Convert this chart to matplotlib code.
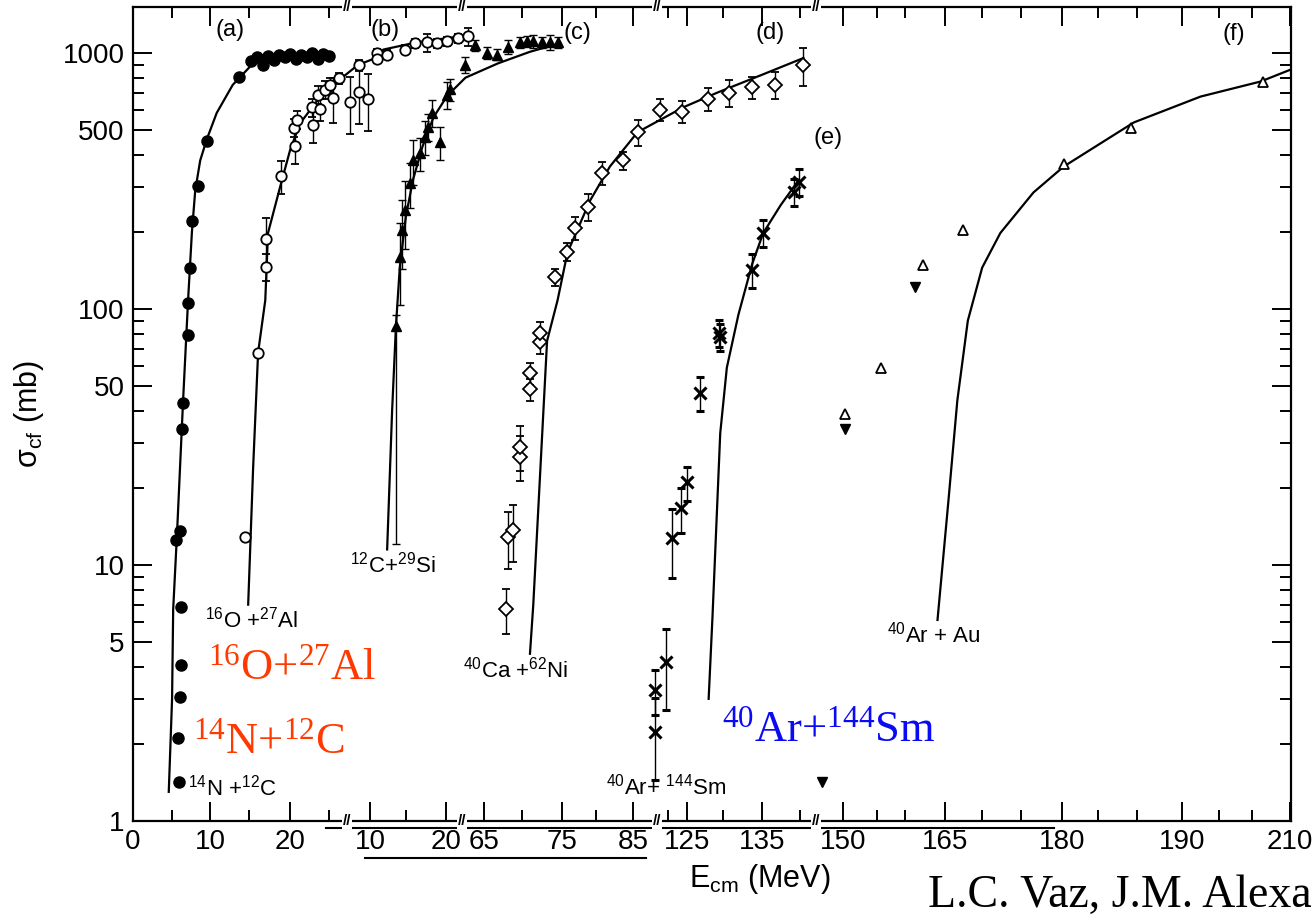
import numpy as np
import matplotlib
matplotlib.use('Agg')
import matplotlib.pyplot as plt
from matplotlib.ticker import FixedLocator, FixedFormatter, NullFormatter, LogLocator

plt.rcParams['font.family'] = ['Liberation Sans', 'DejaVu Sans']
plt.rcParams['mathtext.default'] = 'regular'

# x is the position along the composite (broken) energy axis, 0..210
# each panel has its own energy scale, the tick labels carry the real MeV values
tick_pos = [0, 14.0, 28.5, 43.0, 56.8, 63.7, 77.8, 90.7, 100.5, 114.1, 128.8, 147.3, 168.5, 190.2, 209.8]
tick_lab = ['0', '10', '20', '10', '20', '65', '75', '85', '125', '135', '150', '165', '180', '190', '210']
minor_pos = [7, 21, 35.5, 49.5, 70.5, 84, 97, 107, 121, 135, 140, 154, 161, 175, 182, 197, 203]
break_pos = [38.8, 59.7, 95.1, 123.8]

# (a) 14N + 12C
a_x = [8.3, 8.2, 8.5, 8.7, 8.7, 7.8, 8.5, 8.9, 9.1, 10.0, 10.0, 10.3, 10.7, 11.8, 13.4, 19.2,
       21.5, 22.5, 23.5, 24.5, 25.5, 26.5, 27.5, 28.5, 29.5, 30.5, 31.5, 32.5, 33.5, 34.5, 35.5]
a_y = [1.42, 2.11, 3.05, 4.07, 6.85, 12.5, 13.6, 34, 43, 79, 105, 144, 220, 302, 453, 806,
       930, 960, 900, 970, 940, 980, 960, 990, 950, 985, 965, 1000, 950, 990, 970]
a_fit_x = [6.5, 7.1, 7.3, 8.0, 9.1, 10.0, 10.7, 11.3, 12.2, 13.4, 15.2, 18.1, 21.8, 26, 30, 35.8]
a_fit_y = [1.3, 3.0, 6.7, 13.3, 44, 108, 200, 290, 380, 460, 583, 750, 910, 960, 980, 990]

# (b) 16O + 27Al
b_x = [20.3, 22.7, 24.1, 24.1, 26.9, 29.4, 29.2, 29.8, 32.7, 32.5, 33.9, 33.6, 34.8, 35.8, 36.3,
       37.4, 39.4, 41.0, 42.6, 41.0, 44.3, 46.1, 44.3, 49.4, 51.2, 53.4, 55.2, 57.0, 59.0, 60.8]
b_y = [12.9, 67.5, 146, 188, 330, 433, 509, 548, 525, 613, 601, 685, 717, 750, 667,
       795, 645, 705, 660, 897, 1000, 985, 950, 1030, 1090, 1100, 1090, 1110, 1140, 1160]
b_err = [0, 0, 0.12, 0.2, 0.15, 0.15, 0.08, 0.08, 0.15, 0.08, 0.1, 0.08, 0.08, 0.06, 0.2,
         0.05, 0.25, 0.25, 0.25, 0.05, 0.04, 0.04, 0.04, 0.04, 0.04, 0.08, 0.04, 0.04, 0.04, 0.08]
b_fit_x = [20.9, 21.8, 22.7, 24.0, 24.5, 26.7, 28.5, 30.3, 33.4, 36.3, 40.8, 44.3, 45.4, 51.5, 60.6]
b_fit_y = [7, 24, 67.5, 108, 198, 300, 417, 530, 650, 750, 897, 960, 1030, 1100, 1170]

# (c) 12C + 29Si
c_x = [47.7, 48.5, 48.8, 49.4, 50.3, 50.8, 52.1, 53.0, 53.5, 54.3, 55.7, 57.0, 57.5, 60.3,
       62.1, 64.2, 66.1, 68.1, 70.2, 71.5, 72.6, 74.2, 75.7, 77.1]
c_y = [86, 160, 204, 244, 310, 380, 405, 470, 515, 582, 448, 685, 720, 897,
       1070, 1000, 985, 1055, 1100, 1110, 1110, 1100, 1100, 1100]
c_err_lo = [0.86, 0.35, 0.3, 0.3, 0.2, 0.2, 0.15, 0.15, 0.12, 0.12, 0.15, 0.12, 0.1, 0.07,
            0.05, 0.05, 0.05, 0.06, 0.05, 0.05, 0.06, 0.05, 0.07, 0.05]
c_err_hi = [0.1, 0.35, 0.3, 0.3, 0.2, 0.2, 0.15, 0.15, 0.12, 0.12, 0.15, 0.12, 0.1, 0.07,
            0.05, 0.05, 0.05, 0.06, 0.05, 0.05, 0.06, 0.05, 0.07, 0.05]
c_fit_x = [46.1, 47.0, 47.7, 48.4, 49.5, 50.8, 52.5, 54.5, 57.0, 60.3, 66.2, 72.0, 77.5]
c_fit_y = [11.5, 40, 86, 146, 230, 320, 430, 560, 680, 800, 910, 1010, 1090]

# (d) 40Ca + 62Ni
d_x = [67.7, 68.1, 69.0, 70.2, 70.2, 72.0, 72.0, 73.9, 73.9, 76.6, 78.8, 80.2, 82.6, 85.1,
       88.9, 91.5, 95.6, 99.6, 104.2, 108.0, 112.3, 116.5, 121.6]
d_y = [6.7, 12.9, 13.7, 26.5, 29, 48.5, 56, 74, 80.5, 133, 167, 207, 250, 340,
       380, 490, 600, 590, 660, 700, 735, 750, 897]
d_err = [0.2, 0.25, 0.25, 0.2, 0.2, 0.1, 0.1, 0.1, 0.1, 0.08, 0.08, 0.1, 0.12, 0.1,
         0.08, 0.12, 0.1, 0.1, 0.1, 0.12, 0.1, 0.12, 0.17]
d_fit_x = [72.0, 72.6, 73.9, 75.1, 77.0, 78.8, 82.9, 86.5, 91.5, 99.8, 106.0, 114.0, 121.6]
d_fit_y = [4.5, 7.0, 24, 75, 108, 166, 265, 360, 490, 613, 700, 820, 955]

# (e) 40Ar + 144Sm
e_x = [94.7, 94.7, 96.6, 97.8, 99.3, 100.5, 102.9, 106.2, 106.5, 112.3, 114.3, 119.8, 120.7]
e_y = [2.23, 3.25, 4.18, 12.7, 16.7, 21, 47, 80.5, 78, 142, 198, 287, 313]
e_err = [0.35, 0.2, 0.35, 0.3, 0.2, 0.15, 0.15, 0.12, 0.12, 0.15, 0.12, 0.12, 0.12]
e_fit_x = [104.4, 105.1, 106.5, 107.7, 109.8, 112.3, 114.3, 117.5, 120.7]
e_fit_y = [3.0, 6.3, 32.7, 59, 95, 150, 198, 255, 318]

# (f) 40Ar + Au
f_x = [129.2, 135.6, 143.2, 150.5, 168.8, 180.9, 204.9]
f_y = [39, 59, 148, 204, 367, 510, 773]
f_down_x = [141.9, 129.2, 125.0]
f_down_y = [122, 34, 1.42]
f_fit_x = [145.9, 147.9, 149.5, 151.4, 154.0, 157.3, 163.3, 168.8, 181.5, 193.6, 204.5, 210.5]
f_fit_y = [6.1, 18, 44, 90, 145, 198, 285, 360, 535, 675, 773, 870]

fig = plt.figure(figsize=(13.16, 9.16), dpi=100)
ax = fig.add_axes([0.101, 0.1037, 0.880, 0.8886])
ax.set_yscale('log')
ax.set_xlim(0, 210)
ax.set_ylim(1, 1510)

lw_fit = 1.6
ebk = dict(ecolor='black', elinewidth=1.0, capsize=3, capthick=1.0)

# fits
for fx, fy in [(a_fit_x, a_fit_y), (b_fit_x, b_fit_y), (c_fit_x, c_fit_y),
               (d_fit_x, d_fit_y), (e_fit_x, e_fit_y), (f_fit_x, f_fit_y)]:
    ax.plot(fx, fy, color='black', lw=lw_fit, zorder=2)

# data
ax.plot(a_x, a_y, 'o', color='black', ms=8, zorder=3)

b_y_arr = np.array(b_y)
ax.errorbar(b_x, b_y, yerr=b_y_arr * np.array(b_err), fmt='o', mfc='white', mec='black',
            ms=7.5, mew=1.3, zorder=3, **ebk)

c_y_arr = np.array(c_y)
ax.errorbar(c_x, c_y, yerr=[c_y_arr * np.array(c_err_lo), c_y_arr * np.array(c_err_hi)],
            fmt='^', color='black', ms=7.5, zorder=3, **ebk)

d_y_arr = np.array(d_y)
ax.errorbar(d_x, d_y, yerr=d_y_arr * np.array(d_err), fmt='D', mfc='white', mec='black',
            ms=7, mew=1.3, zorder=3, **ebk)

e_y_arr = np.array(e_y)
ax.errorbar(e_x, e_y, yerr=e_y_arr * np.array(e_err), fmt='x', color='black',
            ms=9, mew=2.2, zorder=3, **ebk)

ax.plot(f_x, f_y, '^', mfc='white', mec='black', ms=7, mew=1.3, zorder=3)
ax.plot(f_down_x, f_down_y, 'v', color='black', ms=7, zorder=3)

# axes styling
for s in ax.spines.values():
    s.set_linewidth(1.6)
ax.xaxis.set_major_locator(FixedLocator(tick_pos))
ax.xaxis.set_major_formatter(FixedFormatter(tick_lab))
ax.xaxis.set_minor_locator(FixedLocator(minor_pos))
ax.xaxis.set_minor_formatter(NullFormatter())
ax.set_yticks([1, 5, 10, 50, 100, 500, 1000])
ax.set_yticklabels(['1', '5', '10', '50', '100', '500', '1000'])
ax.yaxis.set_minor_locator(LogLocator(base=10, subs=(2, 3, 4, 6, 7, 8, 9)))
ax.yaxis.set_minor_formatter(NullFormatter())
ax.tick_params(which='both', direction='in', top=True, right=True, width=1.4,
               labelsize=20, pad=6)
ax.tick_params(which='major', length=14)
ax.tick_params(which='minor', length=8)

# axis break marks on top and bottom
for bp in break_pos:
    for yy in (0.0, 1.0):
        ax.text(bp, yy, '//', transform=ax.get_xaxis_transform(), ha='center', va='center',
                fontsize=11, fontweight='bold',
                bbox=dict(facecolor='white', edgecolor='none', pad=0.5), zorder=5)

# doubled base lines from the pasted-together axis
blend = ax.get_xaxis_transform()
ax.plot([35, 167], [-0.008, -0.008], color='black', lw=1.5, transform=blend, clip_on=False)
ax.plot([42, 93], [-0.045, -0.045], color='black', lw=1.5, transform=blend, clip_on=False)

ax.set_ylabel(r'$\sigma_{cf}$ (mb)', fontsize=22)
ax.yaxis.set_label_coords(-0.075, 0.5)
ax.set_xlabel(r'E$_{cm}$ (MeV)', fontsize=22)
ax.xaxis.set_label_coords(0.541, -0.05)

# panel letters
for lab, lx, ly in [('(a)', 17.6, 1230), ('(b)', 45.7, 1230), ('(c)', 80.6, 1200),
                    ('(d)', 115.6, 1200), ('(e)', 126.1, 466), ('(f)', 199.6, 1190)]:
    ax.text(lx, ly, lab, fontsize=17, ha='center', va='center')

# reaction labels
small = 16
ax.text(13.1, 6.1, r'$^{16}$O +$^{27}$Al', fontsize=small, va='center')
ax.text(10.0, 1.35, r'$^{14}$N +$^{12}$C', fontsize=small, va='center')
ax.text(39.4, 10.0, r'$^{12}$C+$^{29}$Si', fontsize=small, va='center')
ax.text(59.9, 3.9, r'$^{40}$Ca +$^{62}$Ni', fontsize=small, va='center')
ax.text(85.7, 1.36, r'$^{40}$Ar+ $^{144}$Sm', fontsize=small, va='center')
ax.text(136.8, 5.33, r'$^{40}$Ar + Au', fontsize=small, va='center')

# large annotations
red = '#ff3a00'
ax.text(13.6, 3.96, r'$^{16}$O+$^{27}$Al', fontsize=32, color=red, va='center',
        family='Liberation Serif')
ax.text(10.9, 2.03, r'$^{14}$N+$^{12}$C', fontsize=32, color=red, va='center',
        family='Liberation Serif')
ax.text(106.9, 2.27, r'$^{40}$Ar+$^{144}$Sm', fontsize=32, color='#0a0af5', va='center',
        family='Liberation Serif')
fig.text(0.997, 0.022, 'L.C. Vaz, J.M. Alexa', fontsize=33, va='center', ha='right',
         family='Liberation Serif')

fig.savefig('out.png', dpi=100)
